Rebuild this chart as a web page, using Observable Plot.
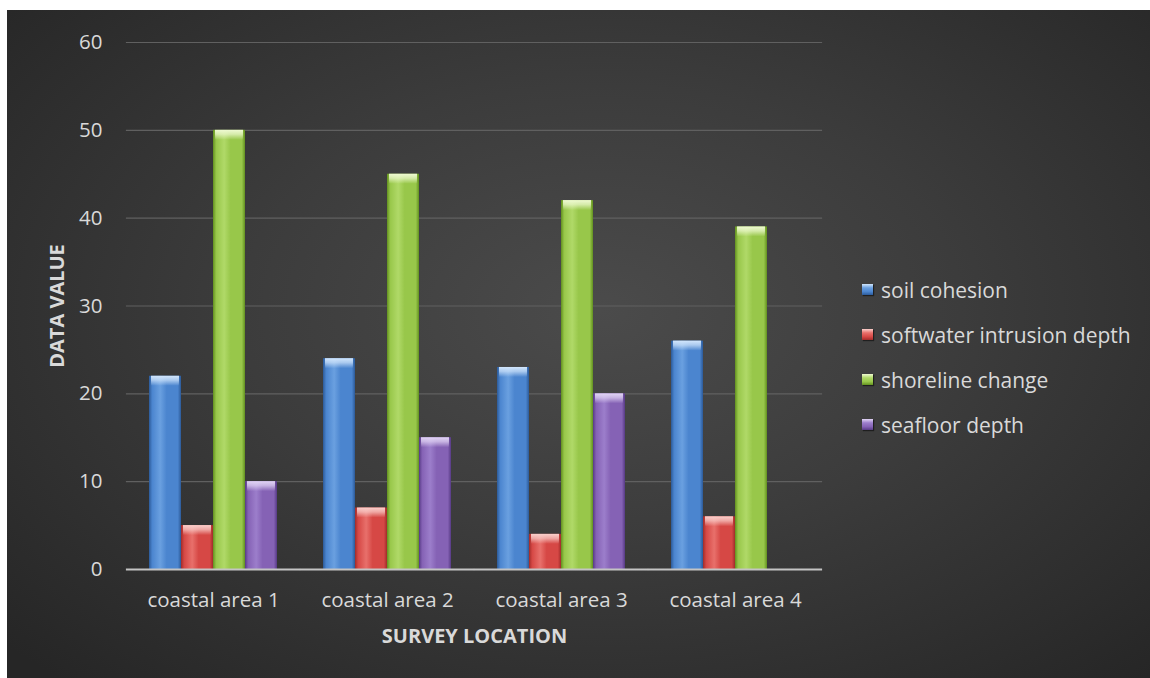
<!DOCTYPE html>
<html>
<head>
<meta charset="utf-8">
<script src="https://cdn.jsdelivr.net/npm/d3@7"></script>
<script src="https://cdn.jsdelivr.net/npm/@observablehq/plot@0.6"></script>
<style>
  body { margin: 0; background: #fff; width: 1150px; height: 678px; overflow: hidden; }
  #chart {
    position: absolute; left: 7px; top: 10px; width: 1143px; height: 668px;
    background: radial-gradient(ellipse 70% 75% at 52% 45%, #4b4b4b 0%, #3c3c3c 45%, #262626 100%);
    font-family: "Open Sans", sans-serif;
  }
  #chart svg { position: absolute; left: 0; top: 0; }
  g[aria-label="y-axis label"] text, g[aria-label="fx-axis label"] text { font-weight: bold; font-size: 20px; }
  g[aria-label="bars"] { filter: drop-shadow(3px 1px 2.5px rgba(0,0,0,0.6)); }
  #legend { position: absolute; left: 855px; top: 257px; color: #d9d9d9; font-size: 21px; }
  #legend .item { display: flex; align-items: center; height: 45px; }
  #legend .sw { width: 11px; height: 11px; margin-right: 8px; box-shadow: 1px 1px 1px rgba(0,0,0,0.5); }
</style>
</head>
<body>
<div id="chart"><div id="legend"></div></div>
<script>
// Survey results per coastal location
const locations = ["coastal area 1", "coastal area 2", "coastal area 3", "coastal area 4"];
const seriesNames = ["soil cohesion", "softwater intrusion depth", "shoreline change", "seafloor depth"];
const soilCohesion = [22, 24, 23, 26];
const softwaterIntrusionDepth = [5, 7, 4, 6];
const shorelineChange = [50, 45, 42, 39];
const seafloorDepth = [10, 15, 20, null];
const yTicks = [0, 10, 20, 30, 40, 50, 60];

// edge / base / highlight tones for each series
const palette = [
  {edge: "#2c5a98", base: "#4b85cf", light: "#6aa0e0", cap: "#d2e6fc"},
  {edge: "#a02c2a", base: "#d64845", light: "#e8706b", cap: "#fad0cc"},
  {edge: "#62901f", base: "#98c74a", light: "#b0d968", cap: "#effad2"},
  {edge: "#573a85", base: "#8562b5", light: "#9c7ecb", cap: "#e2d5f5"}
];

const seriesValues = [soilCohesion, softwaterIntrusionDepth, shorelineChange, seafloorDepth];
const rows = [];
locations.forEach((loc, i) => {
  seriesNames.forEach((s, j) => {
    const v = seriesValues[j][i];
    if (v != null) rows.push({location: loc, series: s, value: v, idx: j});
  });
});

const W = 1143, H = 668;
const mL = 118, mR = 328, mT = 32, mB = 109;
const padInner = 0.265, padOuter = padInner / 2;
const step = (W - mL - mR) / locations.length;
const halfGap = step * padInner / 2;

const barMarks = seriesNames.map((s, j) =>
  Plot.barY(rows.filter(r => r.idx === j), {
    fx: "location", x: "series", y: "value", fill: `url(#bar-${j})`, ariaLabel: "bars"
  })
);
// bevel highlight along the top of each bar
const capMarks = seriesNames.map((s, j) =>
  Plot.barY(rows.filter(r => r.idx === j), {
    fx: "location", x: "series", y1: "value", y2: "value",
    insetBottom: -10, insetLeft: 2, insetRight: 2, fill: `url(#cap-${j})`
  })
);

const chart = Plot.plot({
  width: W, height: H,
  marginLeft: mL, marginRight: mR, marginTop: mT, marginBottom: mB,
  style: {background: "transparent", color: "#d9d9d9", fontFamily: "'Open Sans', sans-serif", fontSize: "20.5px"},
  fx: {domain: locations, paddingInner: padInner, paddingOuter: padOuter},
  x: {domain: seriesNames, padding: 0, axis: null},
  y: {domain: [0, 60], axis: null},
  marks: [
    Plot.ruleY(yTicks.filter(t => t > 0), {stroke: "#606060", strokeWidth: 1.2, insetLeft: -halfGap, insetRight: -halfGap}),
    ...barMarks,
    ...capMarks,
    Plot.ruleY([0], {stroke: "#c4c4c4", strokeWidth: 2.2, insetLeft: -halfGap, insetRight: -halfGap}),
    Plot.axisY(yTicks, {
      anchor: "left", tickSize: 0, tickPadding: halfGap + 24, fontSize: 20.5,
      label: "DATA VALUE", labelAnchor: "center", labelArrow: "none", labelOffset: halfGap + 77
    }),
    Plot.axisFx({
      anchor: "bottom", tickSize: 0, tickPadding: 23, fontSize: 20.5,
      label: "SURVEY LOCATION", labelAnchor: "center", labelArrow: "none", labelOffset: 73
    })
  ]
});

// bar shading: vertical cylinder-like sheen, and a soft light fade for the top bevel
const svg = d3.select(chart);
const defs = svg.insert("defs", ":first-child");
palette.forEach((p, j) => {
  const g = defs.append("linearGradient").attr("id", `bar-${j}`).attr("x1", 0).attr("x2", 1).attr("y1", 0).attr("y2", 0);
  [[0, p.edge], [0.1, p.base], [0.35, p.light], [0.55, p.base], [0.9, p.base], [1, p.edge]]
    .forEach(([o, c]) => g.append("stop").attr("offset", o).attr("stop-color", c));
  const c = defs.append("linearGradient").attr("id", `cap-${j}`).attr("x1", 0).attr("x2", 0).attr("y1", 0).attr("y2", 1);
  [[0, p.cap, 1], [0.45, p.cap, 0.7], [1, p.cap, 0]]
    .forEach(([o, col, a]) => c.append("stop").attr("offset", o).attr("stop-color", col).attr("stop-opacity", a));
});

document.getElementById("chart").appendChild(chart);

// legend
const legend = d3.select("#legend");
seriesNames.forEach((s, j) => {
  const item = legend.append("div").attr("class", "item");
  item.append("div").attr("class", "sw")
    .style("background", `linear-gradient(180deg, ${palette[j].cap} 0%, ${palette[j].light} 35%, ${palette[j].base} 70%, ${palette[j].edge} 100%)`);
  item.append("span").text(s);
});
</script>
</body>
</html>
